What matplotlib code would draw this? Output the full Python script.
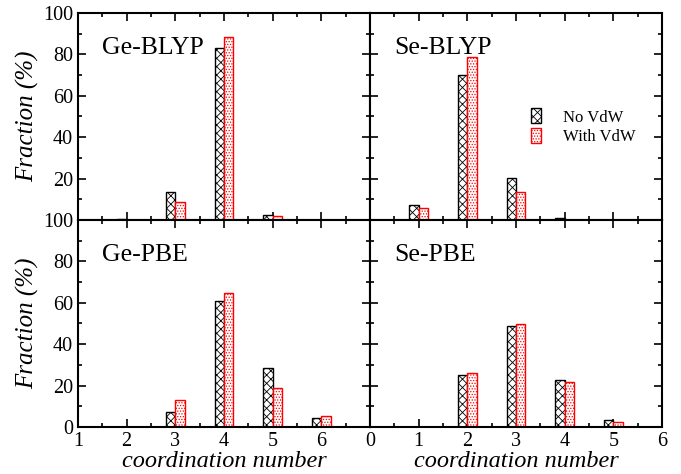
import matplotlib
matplotlib.use('Agg')
import matplotlib.pyplot as plt
from matplotlib.patches import Patch
from matplotlib.ticker import MultipleLocator
import numpy as np

plt.rcParams['font.family'] = ['Liberation Serif', 'DejaVu Serif']
plt.rcParams['hatch.linewidth'] = 0.6

# ---- data ----
ge_cn = [2, 3, 4, 5, 6]
ge_blyp_novdw = [0.3, 13.3, 83.0, 2.4, 0.0]
ge_blyp_vdw = [0.0, 8.6, 88.3, 2.0, 0.0]
ge_pbe_novdw = [0.0, 7.0, 60.8, 28.5, 4.5]
ge_pbe_vdw = [0.0, 12.9, 64.5, 18.6, 5.2]

se_cn = [1, 2, 3, 4, 5]
se_blyp_novdw = [7.0, 70.2, 20.3, 0.8, 0.0]
se_blyp_vdw = [6.0, 78.7, 13.7, 0.2, 0.0]
se_pbe_novdw = [0.0, 25.0, 49.0, 22.6, 3.6]
se_pbe_vdw = [0.0, 26.3, 49.7, 21.5, 2.6]

panels = [
    ('Ge-BLYP', ge_cn, ge_blyp_novdw, ge_blyp_vdw, (1, 7)),
    ('Se-BLYP', se_cn, se_blyp_novdw, se_blyp_vdw, (0, 6)),
    ('Ge-PBE', ge_cn, ge_pbe_novdw, ge_pbe_vdw, (1, 7)),
    ('Se-PBE', se_cn, se_pbe_novdw, se_pbe_vdw, (0, 6)),
]

fig = plt.figure(figsize=(6.81, 4.74), dpi=100)
L, W = 0.1145, 0.4288
B1, H = 0.0992, 0.4367
pos = [(L, B1 + H, W, H), (L + W, B1 + H, W, H),
       (L, B1, W, H), (L + W, B1, W, H)]

bw = 0.19
for k, (name, cn, nov, wv, xlim) in enumerate(panels):
    ax = fig.add_axes(pos[k])
    x = np.array(cn, dtype=float)
    ax.bar(x - bw / 2, nov, width=bw, facecolor='white', edgecolor='black',
           hatch='xxxx', linewidth=1.0, zorder=2)
    ax.bar(x + bw / 2, wv, width=bw, facecolor='white', edgecolor='red',
           hatch='......', linewidth=1.0, zorder=2)
    ax.set_xlim(*xlim)
    ax.set_ylim(0, 100)
    ax.xaxis.set_major_locator(MultipleLocator(1))
    ax.xaxis.set_minor_locator(MultipleLocator(0.5))
    ax.yaxis.set_major_locator(MultipleLocator(20))
    ax.yaxis.set_minor_locator(MultipleLocator(10))
    ax.tick_params(which='both', direction='in', top=True, right=True,
                   labelsize=14.5, width=1.2)
    ax.tick_params(which='major', length=6)
    ax.tick_params(which='minor', length=3)
    for s in ax.spines.values():
        s.set_linewidth(1.5)
    ax.text(0.082, 0.83, name, transform=ax.transAxes, fontsize=18.5,
            ha='left', va='center')

    top = k < 2
    left = k % 2 == 0
    if top:
        ax.tick_params(labelbottom=False)
    else:
        ax.set_xlabel('coordination number', fontsize=17.5, style='italic',
                      labelpad=0)
        if left:
            ax.set_xticks([1, 2, 3, 4, 5, 6])
            ax.xaxis.set_minor_locator(MultipleLocator(0.5))
    if left:
        ax.set_ylabel('Fraction (%)', fontsize=18, style='italic', labelpad=3)
        if top:
            ax.set_yticks([20, 40, 60, 80, 100])
            ax.yaxis.set_minor_locator(MultipleLocator(10))
    else:
        ax.tick_params(labelleft=False)

    if k == 1:
        handles = [Patch(facecolor='white', edgecolor='black', hatch='xxxx'),
                   Patch(facecolor='white', edgecolor='red', hatch='......')]
        ax.legend(handles, ['No VdW', 'With VdW'], loc='center left',
                  bbox_to_anchor=(0.50, 0.45), frameon=False, fontsize=12,
                  handlelength=0.6, handleheight=1.0, handletextpad=1.3,
                  labelspacing=0.15)

plt.savefig('out.png', dpi=100)
